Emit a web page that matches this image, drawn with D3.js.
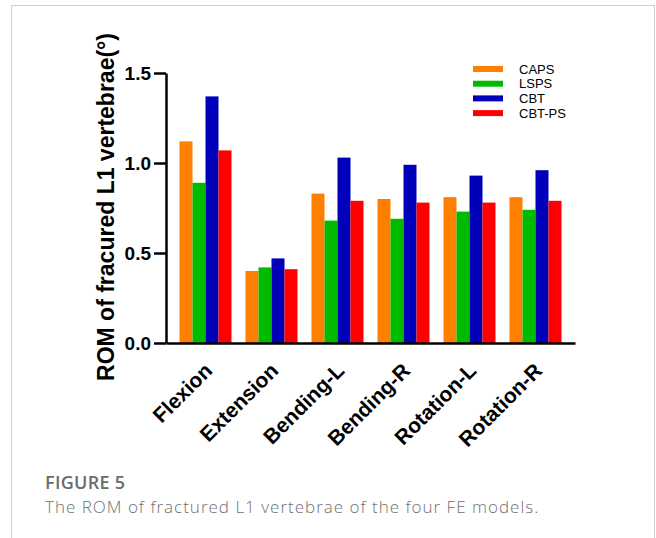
<!DOCTYPE html>
<html>
<head>
<meta charset="utf-8">
<script src="https://cdn.jsdelivr.net/npm/d3@7"></script>
<style>
  html, body { margin: 0; padding: 0; background: #fff; }
  svg { display: block; }
</style>
</head>
<body>
<svg id="fig" width="656" height="538"></svg>
<script>
// Range of motion (degrees) of the fractured L1 vertebra for each FE model
const motions = ["Flexion", "Extension", "Bending-L", "Bending-R", "Rotation-L", "Rotation-R"];
const models = ["CAPS", "LSPS", "CBT", "CBT-PS"];
const caps  = [1.12, 0.40, 0.83, 0.80, 0.81, 0.81];
const lsps  = [0.89, 0.42, 0.68, 0.69, 0.73, 0.74];
const cbt   = [1.37, 0.47, 1.03, 0.99, 0.93, 0.96];
const cbtps = [1.07, 0.41, 0.79, 0.78, 0.78, 0.79];
const yTicks = [0, 0.5, 1.0, 1.5];
const colors = ["#ff8000", "#00bb00", "#0000bb", "#ff0000"];

const seriesValues = [caps, lsps, cbt, cbtps];

const svg = d3.select("#fig");

// outer frame of the figure panel
svg.append("rect")
  .attr("x", 11.5).attr("y", 5.5)
  .attr("width", 643).attr("height", 600)
  .attr("fill", "none").attr("stroke", "#cfcfcf").attr("stroke-width", 1);

const x = d3.scaleBand().domain(motions).range([166, 575])
  .paddingInner(0.212).paddingOuter(0.2045);
const xs = d3.scaleBand().domain(models).range([0, x.bandwidth()]);
const y = d3.scaleLinear().domain([0, 1.5]).range([343, 73]);

const chartFont = "Arial, 'Liberation Sans', sans-serif";

// bars
const groups = svg.append("g").selectAll("g")
  .data(motions)
  .join("g")
  .attr("transform", d => `translate(${x(d)},0)`);

groups.selectAll("rect")
  .data((m, i) => models.map((s, j) => ({ s, j, v: seriesValues[j][i] })))
  .join("rect")
  .attr("x", d => xs(d.s))
  .attr("width", xs.bandwidth())
  .attr("y", d => y(d.v))
  .attr("height", d => y(0) - y(d.v))
  .attr("fill", d => colors[d.j]);

// y axis
const yAxis = svg.append("g")
  .attr("transform", "translate(166,0)")
  .call(d3.axisLeft(y).tickValues(yTicks).tickFormat(d3.format(".1f"))
    .tickSize(12).tickSizeOuter(0).tickPadding(3));
yAxis.select(".domain").attr("stroke-width", 2.5);
yAxis.selectAll(".tick line").attr("stroke-width", 2.5);
yAxis.selectAll("text")
  .attr("font-family", chartFont).attr("font-weight", "bold")
  .attr("font-size", 19).attr("fill", "#000");

// x axis
const xAxis = svg.append("g")
  .attr("transform", "translate(0,343)")
  .call(d3.axisBottom(x).tickSize(0).tickSizeOuter(0));
xAxis.select(".domain").attr("stroke-width", 2.5);
xAxis.selectAll("text")
  .attr("font-family", chartFont).attr("font-weight", "bold")
  .attr("font-size", 21).attr("fill", "#000")
  .attr("text-anchor", "end")
  .attr("x", 0).attr("y", 0).attr("dy", 0)
  .attr("transform", "translate(8,29) rotate(-45)");

// y axis title
svg.append("text")
  .attr("transform", "translate(114,207) rotate(-90)")
  .attr("text-anchor", "middle")
  .attr("font-family", chartFont).attr("font-weight", "bold")
  .attr("font-size", 23).attr("fill", "#000")
  .text("ROM of fracured L1 vertebrae(°)");

// legend
const legend = svg.append("g").selectAll("g")
  .data(models)
  .join("g")
  .attr("transform", (d, i) => `translate(473,${69 + i * 14.7})`);
legend.append("rect")
  .attr("x", 0).attr("y", -3).attr("width", 30).attr("height", 6)
  .attr("fill", (d, i) => colors[i]);
legend.append("text")
  .attr("x", 46).attr("y", 4.5)
  .attr("font-family", chartFont).attr("font-size", 13).attr("fill", "#000")
  .text(d => d);

// caption
const capFont = "'Open Sans', 'Noto Sans', sans-serif";
svg.append("text")
  .attr("x", 45).attr("y", 489)
  .attr("font-family", capFont).attr("font-weight", 600)
  .attr("font-size", 18).attr("letter-spacing", 0.3).attr("fill", "#6b6b6b")
  .text("FIGURE 5");
svg.append("text")
  .attr("x", 45).attr("y", 513)
  .attr("font-family", capFont).attr("font-weight", 300)
  .attr("font-size", 17).attr("letter-spacing", 1.0).attr("fill", "#707070")
  .text("The ROM of fractured L1 vertebrae of the four FE models.");
</script>
</body>
</html>
